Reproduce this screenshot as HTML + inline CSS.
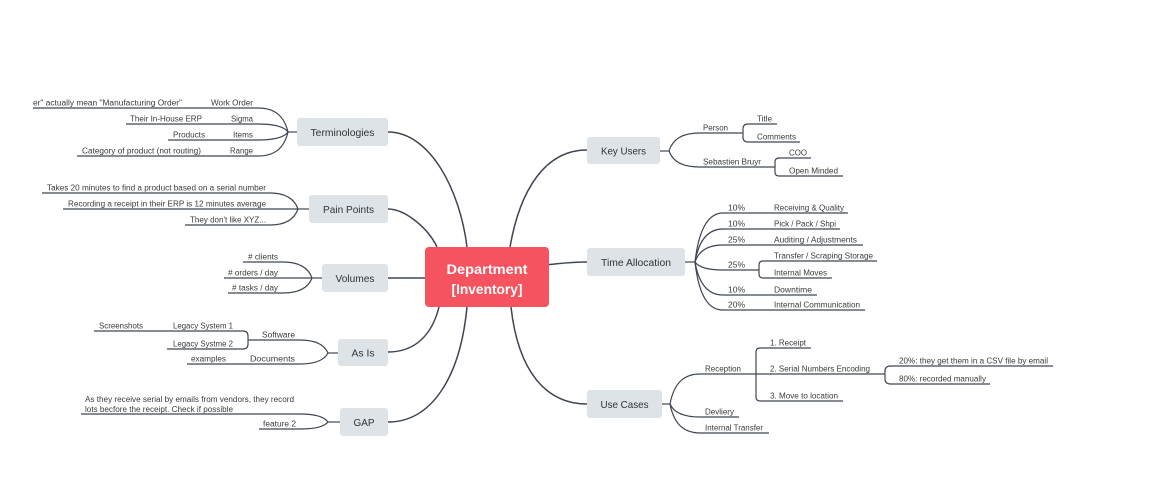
<!DOCTYPE html>
<html><head><meta charset="utf-8"><style>
html,body{margin:0;padding:0;background:#fff;}
svg{display:block;}
text{font-family:"Liberation Sans",sans-serif;}
.s{font-size:8px;fill:#3a3a3a;}
.m{font-size:10.5px;fill:#333;text-anchor:middle;}
.c{font-size:14px;fill:#fff;font-weight:bold;text-anchor:middle;}
.l{fill:none;stroke:#3f4653;stroke-width:1.2;}
.L{fill:none;stroke:#3f4653;stroke-width:1.5;}
.b{fill:#dde3e6;}
</style></head><body>
<svg width="1164" height="484" viewBox="0 0 1164 484" xmlns="http://www.w3.org/2000/svg">
<!-- main connectors -->
<path class="L" d="M467 247 C460 190,430 132,388 132"/>
<path class="L" d="M437 247 C428 228,405 209,388 209"/>
<path class="L" d="M388 278 L430 278"/>
<path class="L" d="M439 307 C432 335,415 352,388 352"/>
<path class="L" d="M467 307 C460 380,430 422,388 422"/>
<path class="L" d="M510 247 C520 190,545 150,587 150"/>
<path class="L" d="M545 265 C565 263,570 262,587 262"/>
<path class="L" d="M511 307 C518 370,545 404,587 404"/>

<!-- central -->
<rect x="425" y="247" width="124" height="60" rx="4" fill="#f4535f"/>
<text class="c" x="487" y="274" textLength="81" lengthAdjust="spacingAndGlyphs">Department</text>
<text class="c" x="487" y="294" textLength="71" lengthAdjust="spacingAndGlyphs">[Inventory]</text>

<!-- Terminologies -->
<rect class="b" x="297" y="118" width="91" height="28" rx="3"/>
<text class="m" x="342.5" y="136" textLength="64" lengthAdjust="spacingAndGlyphs">Terminologies</text>
<path class="l" d="M288 132 L297 132"/>
<path class="l" d="M288 132 C284 115.2,274 108,258 108 L33 108"/>
<path class="l" d="M288 132 C284 126.4,274 124,258 124 L126 124"/>
<path class="l" d="M288 132 C284 137.6,274 140,258 140 L168 140"/>
<path class="l" d="M288 132 C284 148.8,274 156,258 156 L77 156"/>
<text class="s" x="33" y="105.5" textLength="149" lengthAdjust="spacingAndGlyphs">er" actually mean "Manufacturing Order"</text>
<text class="s" x="211" y="105.5" textLength="42" lengthAdjust="spacingAndGlyphs">Work Order</text>
<text class="s" x="130" y="121.5" textLength="72" lengthAdjust="spacingAndGlyphs">Their In-House ERP</text>
<text class="s" x="231" y="121.5" textLength="22" lengthAdjust="spacingAndGlyphs">Sigma</text>
<text class="s" x="173" y="137.5" textLength="32" lengthAdjust="spacingAndGlyphs">Products</text>
<text class="s" x="233" y="137.5" textLength="20" lengthAdjust="spacingAndGlyphs">Items</text>
<text class="s" x="82" y="153.5" textLength="119" lengthAdjust="spacingAndGlyphs">Category of product (not routing)</text>
<text class="s" x="230" y="153.5" textLength="23" lengthAdjust="spacingAndGlyphs">Range</text>

<!-- Pain Points -->
<rect class="b" x="309" y="195" width="79" height="28" rx="3"/>
<text class="m" x="348.5" y="213" textLength="51" lengthAdjust="spacingAndGlyphs">Pain Points</text>
<path class="l" d="M298 209 L309 209"/>
<path class="l" d="M298 209 C294 197.8,284 193,270 193 L42 193"/>
<path class="l" d="M298 209 L63 209"/>
<path class="l" d="M298 209 C294 220.2,284 225,270 225 L185 225"/>
<text class="s" x="47" y="190.5" textLength="219" lengthAdjust="spacingAndGlyphs">Takes 20 minutes to find a product based on a serial number</text>
<text class="s" x="68" y="206.5" textLength="198" lengthAdjust="spacingAndGlyphs">Recording a receipt in their ERP is 12 minutes average</text>
<text class="s" x="190" y="222.5" textLength="76" lengthAdjust="spacingAndGlyphs">They don't like XYZ...</text>

<!-- Volumes -->
<rect class="b" x="322" y="264" width="66" height="28" rx="3"/>
<text class="m" x="355" y="282" textLength="39" lengthAdjust="spacingAndGlyphs">Volumes</text>
<path class="l" d="M312 278 L322 278"/>
<path class="l" d="M312 278 C308 266.8,298 262,283 262 L243 262"/>
<path class="l" d="M312 278 L224 278"/>
<path class="l" d="M312 278 C308 288.5,298 293,283 293 L228 293"/>
<text class="s" x="248" y="259.5" textLength="30" lengthAdjust="spacingAndGlyphs"># clients</text>
<text class="s" x="228" y="275.5" textLength="50" lengthAdjust="spacingAndGlyphs"># orders / day</text>
<text class="s" x="232" y="290.5" textLength="46" lengthAdjust="spacingAndGlyphs"># tasks / day</text>

<!-- As Is -->
<rect class="b" x="338" y="339" width="50" height="27" rx="3"/>
<text class="m" x="363" y="356.5" textLength="23" lengthAdjust="spacingAndGlyphs">As Is</text>
<path class="l" d="M328 353 L338 353"/>
<path class="l" d="M328 353 C324 343.9,314 340,300 340 L248 340"/>
<path class="l" d="M328 353 C324 360.7,314 364,300 364 L187 364"/>
<path class="l" d="M94 331 L243 331 Q248 331 248 336 L248 344 Q248 349 243 349 L167 349"/>
<text class="s" x="262" y="337.5" textLength="33" lengthAdjust="spacingAndGlyphs">Software</text>
<text class="s" x="173" y="328.5" textLength="60" lengthAdjust="spacingAndGlyphs">Legacy System 1</text>
<text class="s" x="99" y="328.5" textLength="44" lengthAdjust="spacingAndGlyphs">Screenshots</text>
<text class="s" x="173" y="346.5" textLength="60" lengthAdjust="spacingAndGlyphs">Legacy Systme 2</text>
<text class="s" x="250" y="361.5" textLength="45" lengthAdjust="spacingAndGlyphs">Documents</text>
<text class="s" x="191" y="361.5" textLength="35" lengthAdjust="spacingAndGlyphs">examples</text>

<!-- GAP -->
<rect class="b" x="340" y="408" width="48" height="28" rx="3"/>
<text class="m" x="364" y="426" textLength="21" lengthAdjust="spacingAndGlyphs">GAP</text>
<path class="l" d="M328 422 L340 422"/>
<path class="l" d="M328 422 C324 416.4,314 414,300 414 L81 414"/>
<path class="l" d="M328 422 C324 426.9,314 429,300 429 L259 429"/>
<text class="s" x="85" y="402" textLength="209" lengthAdjust="spacingAndGlyphs">As they receive serial by emails from vendors, they record</text>
<text class="s" x="85" y="412" textLength="148" lengthAdjust="spacingAndGlyphs">lots becfore the receipt. Check if possible</text>
<text class="s" x="263" y="426.5" textLength="33" lengthAdjust="spacingAndGlyphs">feature 2</text>

<!-- Key Users -->
<rect class="b" x="587" y="137" width="73" height="27" rx="3"/>
<text class="m" x="623.5" y="154.5" textLength="45" lengthAdjust="spacingAndGlyphs">Key Users</text>
<path class="l" d="M660 151 L669 151"/>
<path class="l" d="M669 151 C673 138.4,683 133,700 133 L743 133"/>
<path class="l" d="M669 151 C673 162.2,683 167,700 167 L775 167"/>
<path class="l" d="M777 124 L748 124 Q743 124 743 129 L743 137 Q743 142 748 142 L800 142"/>
<path class="l" d="M811 158 L779 158 Q775 158 775 162 L775 172 Q775 176 779 176 L843 176"/>
<text class="s" x="703" y="130.5" textLength="25" lengthAdjust="spacingAndGlyphs">Person</text>
<text class="s" x="757" y="121.5" textLength="15" lengthAdjust="spacingAndGlyphs">Title</text>
<text class="s" x="757" y="139.5" textLength="39" lengthAdjust="spacingAndGlyphs">Comments</text>
<text class="s" x="703" y="164.5" textLength="58" lengthAdjust="spacingAndGlyphs">Sebastien Bruyr</text>
<text class="s" x="789" y="155.5" textLength="18" lengthAdjust="spacingAndGlyphs">COO</text>
<text class="s" x="789" y="173.5" textLength="49" lengthAdjust="spacingAndGlyphs">Open Minded</text>

<!-- Time Allocation -->
<rect class="b" x="587" y="248" width="98" height="28" rx="3"/>
<text class="m" x="636" y="266" textLength="70" lengthAdjust="spacingAndGlyphs">Time Allocation</text>
<path class="l" d="M685 262 L695 262"/>
<path class="l" d="M695 262 C699 227.7,709 213,723 213 L848 213"/>
<path class="l" d="M695 262 C699 238.9,709 229,723 229 L840 229"/>
<path class="l" d="M695 262 C699 250.1,709 245,723 245 L863 245"/>
<path class="l" d="M695 262 C699 267.6,709 270,723 270 L759 270"/>
<path class="l" d="M695 262 C699 285.1,709 295,723 295 L817 295"/>
<path class="l" d="M695 262 C699 297.1,709 310,723 310 L865 310"/>
<path class="l" d="M877 261 L763 261 Q759 261 759 265 L759 274 Q759 278 763 278 L832 278"/>
<text class="s" x="728" y="210.5" textLength="17" lengthAdjust="spacingAndGlyphs">10%</text>
<text class="s" x="774" y="210.5" textLength="70" lengthAdjust="spacingAndGlyphs">Receiving &amp; Quality</text>
<text class="s" x="728" y="226.5" textLength="17" lengthAdjust="spacingAndGlyphs">10%</text>
<text class="s" x="774" y="226.5" textLength="62" lengthAdjust="spacingAndGlyphs">Pick / Pack / Shpi</text>
<text class="s" x="728" y="242.5" textLength="17" lengthAdjust="spacingAndGlyphs">25%</text>
<text class="s" x="774" y="242.5" textLength="83" lengthAdjust="spacingAndGlyphs">Auditing / Adjustments</text>
<text class="s" x="728" y="267.5" textLength="17" lengthAdjust="spacingAndGlyphs">25%</text>
<text class="s" x="774" y="258.5" textLength="99" lengthAdjust="spacingAndGlyphs">Transfer / Scraping Storage</text>
<text class="s" x="774" y="275.5" textLength="53" lengthAdjust="spacingAndGlyphs">Internal Moves</text>
<text class="s" x="728" y="292.5" textLength="17" lengthAdjust="spacingAndGlyphs">10%</text>
<text class="s" x="774" y="292.5" textLength="38" lengthAdjust="spacingAndGlyphs">Downtime</text>
<text class="s" x="728" y="307.5" textLength="17" lengthAdjust="spacingAndGlyphs">20%</text>
<text class="s" x="774" y="307.5" textLength="86" lengthAdjust="spacingAndGlyphs">Internal Communication</text>

<!-- Use Cases -->
<rect class="b" x="587" y="390" width="75" height="28" rx="3"/>
<text class="m" x="624.5" y="408" textLength="48" lengthAdjust="spacingAndGlyphs">Use Cases</text>
<path class="l" d="M662 404 L670 404"/>
<path class="l" d="M670 404 C674 383,684 374,700 374 L885 374"/>
<path class="l" d="M670 404 C674 413.1,684 417,700 417 L739 417"/>
<path class="l" d="M670 404 C674 424.3,684 433,700 433 L769 433"/>
<path class="l" d="M811 348 L760 348 Q756 348 756 352 L756 397 Q756 401 760 401 L843 401"/>
<path class="l" d="M1053 366 L891 366 Q885 366 885 371 L885 379 Q885 384 891 384 L990 384"/>
<text class="s" x="705" y="371.5" textLength="36" lengthAdjust="spacingAndGlyphs">Reception</text>
<text class="s" x="770" y="345.5" textLength="36" lengthAdjust="spacingAndGlyphs">1. Receipt</text>
<text class="s" x="770" y="371.5" textLength="100" lengthAdjust="spacingAndGlyphs">2. Serial Numbers Encoding</text>
<text class="s" x="899" y="363.5" textLength="149" lengthAdjust="spacingAndGlyphs">20%: they get them in a CSV file by email</text>
<text class="s" x="899" y="381.5" textLength="87" lengthAdjust="spacingAndGlyphs">80%: recorded manually</text>
<text class="s" x="770" y="398.5" textLength="68" lengthAdjust="spacingAndGlyphs">3. Move to location</text>
<text class="s" x="705" y="414.5" textLength="29" lengthAdjust="spacingAndGlyphs">Devliery</text>
<text class="s" x="705" y="430.5" textLength="58" lengthAdjust="spacingAndGlyphs">Internal Transfer</text>
</svg>
</body></html>
